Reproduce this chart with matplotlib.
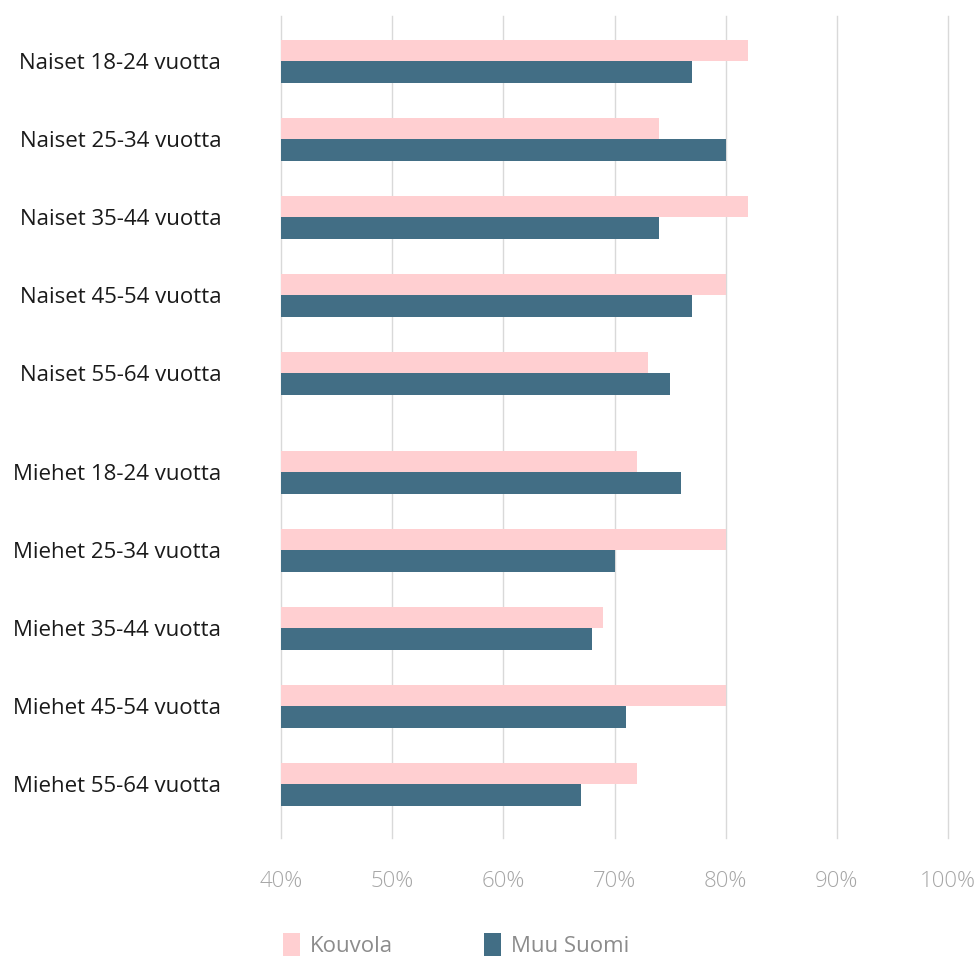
import matplotlib.pyplot as plt
from matplotlib.patches import Patch
from matplotlib.ticker import FuncFormatter

plt.rcParams['font.family'] = ['Open Sans', 'DejaVu Sans']

# Share of respondents per age group
groups = ['Naiset 18-24 vuotta', 'Naiset 25-34 vuotta', 'Naiset 35-44 vuotta',
          'Naiset 45-54 vuotta', 'Naiset 55-64 vuotta',
          'Miehet 18-24 vuotta', 'Miehet 25-34 vuotta', 'Miehet 35-44 vuotta',
          'Miehet 45-54 vuotta', 'Miehet 55-64 vuotta']
kouvola = [82, 74, 82, 80, 73, 72, 80, 69, 80, 72]
muu_suomi = [77, 80, 74, 77, 75, 76, 70, 68, 71, 67]
x_ticks = [40, 50, 60, 70, 80, 90, 100]

pink = '#FFCFD1'
teal = '#426E85'

# women and men blocks separated by a slightly wider gap
pos = [i if i < 5 else i + 0.27 for i in range(len(groups))]
h = 0.276

fig = plt.figure(figsize=(9.77, 9.6), dpi=100)
ax = fig.add_axes([281 / 977, 1 - 838 / 960, (948 - 281) / 977, (838 - 16) / 960])

ax.barh([p - h / 2 for p in pos], kouvola, height=h, left=0, color=pink, zorder=2)
ax.barh([p + h / 2 for p in pos], muu_suomi, height=h, left=0, color=teal, zorder=2)

ax.set_xlim(40, 100)
ax.set_ylim(pos[-1] + 0.69, -0.58)
ax.set_xticks(x_ticks)
ax.xaxis.set_major_formatter(FuncFormatter(lambda v, _: f'{v:.0f}%'))
ax.set_yticks(pos)
ax.set_yticklabels(groups)

ax.grid(axis='x', color='#D9D9D9', linewidth=1, zorder=0)
for gl in ax.get_xgridlines():
    gl.set_clip_on(False)
for s in ax.spines.values():
    s.set_visible(False)
ax.tick_params(axis='x', length=0, pad=24, labelsize=16, labelcolor='#A6A6A6')
ax.tick_params(axis='y', length=0, pad=43, labelsize=16, labelcolor='#1A1A1A')
for t in ax.get_xticklabels():
    t.set_fontweight('light')

handles = [Patch(facecolor=pink, label='Kouvola'),
           Patch(facecolor=teal, label='Muu Suomi')]
fig.legend(handles=handles, loc='center left', bbox_to_anchor=(263 / 977, 1 - 945 / 960),
           ncol=2, frameon=False, fontsize=16, labelcolor='#8C8C8C',
           handlelength=0.75, handleheight=1.2, handletextpad=0.45, columnspacing=4.1)

fig.savefig('out.png', dpi=100)
